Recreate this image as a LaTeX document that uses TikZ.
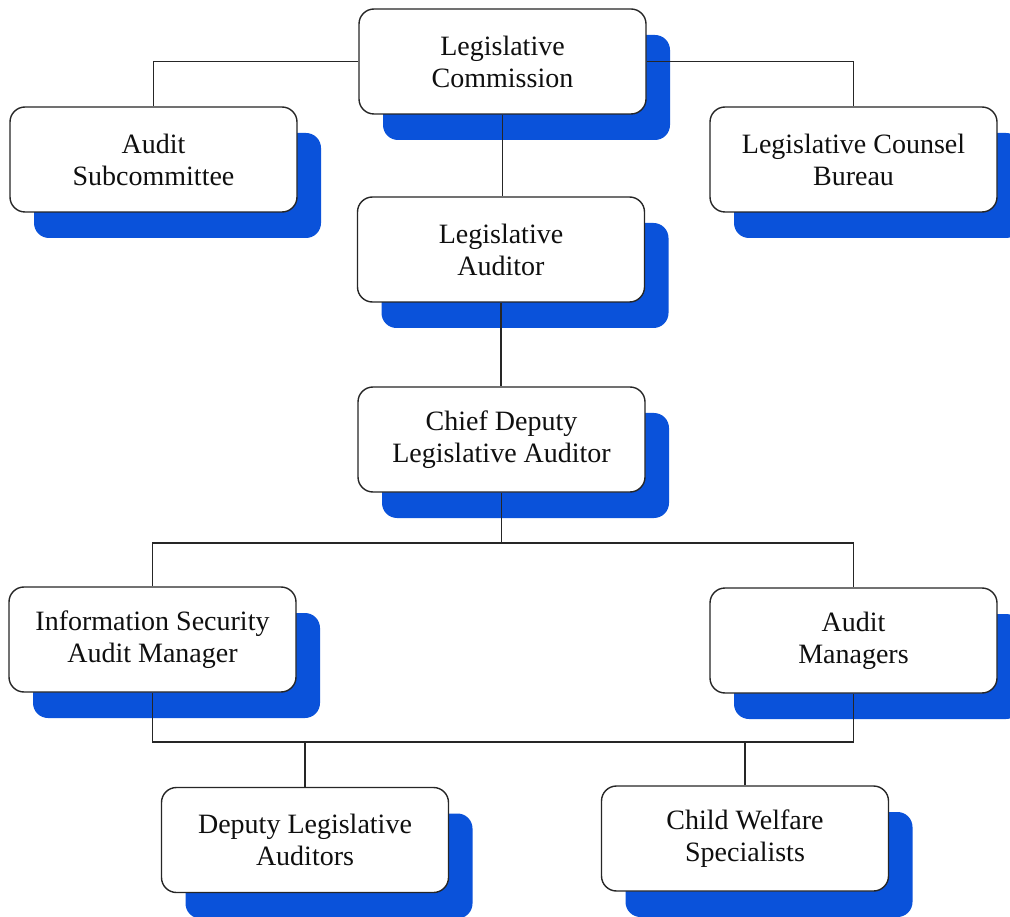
\documentclass[tikz,border=0pt]{standalone}
\usepackage{fontspec}
\setmainfont{Liberation Serif}
\usetikzlibrary{shadows}
\definecolor{shadowblue}{RGB}{10,82,218}
\definecolor{textgray}{RGB}{15,15,15}
\tikzset{
  orgbox/.style={draw=black!85, line width=1.4pt, fill=white, rounded corners=15pt,
    minimum width=287pt, minimum height=105pt, align=center, text=textgray,
    font=\fontsize{28}{32}\selectfont, inner sep=0pt,
    drop shadow={shadow xshift=24pt, shadow yshift=-26pt, fill=shadowblue, opacity=1}},
  link/.style={draw=black!85, line width=1.3pt}
}
\begin{document}
\begin{tikzpicture}[x=1pt,y=-1pt]
\useasboundingbox (0,0) rectangle (1010,917);
\node[orgbox] (lc) at (502.5,61.5) {Legislative\\Commission};
\node[orgbox] (as) at (153.5,159.5) {Audit\\Subcommittee};
\node[orgbox] (lcb) at (853.5,159.5) {Legislative Counsel\\Bureau};
\node[orgbox] (la) at (501,249.5) {Legislative\\Auditor};
\node[orgbox] (cd) at (501.5,439.5) {Chief Deputy\\Legislative Auditor};
\node[orgbox] (isam) at (152.5,639.5) {Information Security\\Audit Manager};
\node[orgbox] (am) at (853.5,640.5) {Audit\\Managers};
\node[orgbox] (dla) at (305,840) {Deputy Legislative\\Auditors};
\node[orgbox] (cws) at (745,838.5) {Child Welfare\\Specialists};
\coordinate (b1) at (501.5,543);
\coordinate (b2) at (500,742);
\draw[link] (lc.west) -| (as.north);
\draw[link] (lc.east) -| (lcb.north);
\draw[link] (lc.south) -- (lc.south |- la.north);
\draw[link] (la.south) -- (la.south |- cd.north);
\draw[link] (cd.south) -- (b1);
\draw[link] (isam.north) |- (b1) -| (am.north);
\draw[link] (isam.south) |- (b2) -| (am.south);
\draw[link] (dla.north) -- (dla.north |- b2);
\draw[link] (cws.north) -- (cws.north |- b2);
\end{tikzpicture}
\end{document}
